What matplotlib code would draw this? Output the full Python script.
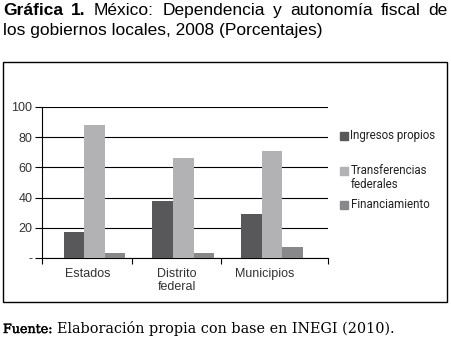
import numpy as np
import matplotlib
matplotlib.use("Agg")
import matplotlib.pyplot as plt
import matplotlib.patheffects as pe
from matplotlib.patches import Rectangle

# datos (porcentajes)
categorias = ["Estados", "Distrito\nfederal", "Municipios"]
series = ["Ingresos propios", "Transferencias\nfederales", "Financiamiento"]
ingresos = [17, 38, 29]
transferencias = [88, 66, 71]
financiamiento = [3, 3, 7]
colores = ["#58585b", "#b2b2b4", "#88888b"]
yticks = [0, 20, 40, 60, 80, 100]
ytick_labels = ["-", "20", "40", "60", "80", "100"]

SANS = ["Liberation Sans", "DejaVu Sans"]
NARROW = ["Roboto", "Liberation Sans", "DejaVu Sans"]
SERIF = ["DejaVu Serif", "Liberation Serif"]

W, H = 451, 341
fig = plt.figure(figsize=(W / 100, H / 100), dpi=100)
r = fig.canvas.get_renderer()


def fx(px):
    return px / W


def fy(py):
    return 1 - py / H


def fit(t, width):
    # ajusta el tamaño de letra para que el texto ocupe `width` píxeles
    for _ in range(3):
        w = t.get_window_extent(r).width
        t.set_fontsize(t.get_fontsize() * width / w)


def justified(words, x0, x1, y, size):
    txts = [fig.text(0, fy(y), t, fontsize=size, family=SANS, weight=wt, va="baseline")
            for t, wt in words]
    widths = [t.get_window_extent(r).width for t in txts]
    gap = (x1 - x0 - sum(widths)) / (len(txts) - 1)
    pos = x0
    for t, wd in zip(txts, widths):
        t.set_x(fx(pos))
        pos += wd + gap


l2 = fig.text(fx(3), fy(35.5), "los gobiernos locales, 2008 (Porcentajes)", fontsize=12,
              family=SANS, va="baseline")
fit(l2, 319)
justified([("Gráfica", "bold"), ("1.", "bold"), ("México:", "normal"), ("Dependencia", "normal"),
           ("y", "normal"), ("autonomía", "normal"), ("fiscal", "normal"), ("de", "normal")],
          3, 448, 15, l2.get_fontsize())

# marco
fig.patches.append(Rectangle((fx(3), fy(302)), fx(447) - fx(3), fy(62) - fy(302),
                             transform=fig.transFigure, fill=False, lw=1, ec="black"))

ax = fig.add_axes([fx(42), fy(258), fx(328) - fx(42), fy(107) - fy(258)])
x = np.arange(len(categorias))
w = 0.232
off = 0.075
for k, (vals, c) in enumerate(zip([ingresos, transferencias, financiamiento], colores)):
    ax.bar(x + off + (k - 1) * w, vals, w, color=c, zorder=3)
ax.set_xlim(-0.52, 2.71)
ax.set_ylim(0, 100)
ax.set_yticks(yticks)
ax.set_yticklabels(ytick_labels, family=SANS)
ax.grid(axis="y", color="black", lw=0.8, zorder=0)
ax.set_axisbelow(True)
for s in ["top", "right"]:
    ax.spines[s].set_visible(False)
for s in ["left", "bottom"]:
    ax.spines[s].set_linewidth(0.8)
ax.set_xticks(x)
ax.set_xticklabels(categorias, family=SANS, fontsize=9, color="#333333", linespacing=1.1)
ax.tick_params(axis="x", which="major", length=0, pad=7)
ax.set_xticks([-0.52, 0.5, 1.5, 2.71], minor=True)
ax.tick_params(axis="x", which="minor", length=4, width=0.8)
ax.tick_params(axis="y", length=5, width=0.8, pad=2, labelsize=9, labelcolor="#333333")

# leyenda
ley_y = [136, 171, 205]
for lab, c, yy in zip(series, colores, ley_y):
    fig.patches.append(Rectangle((fx(340), fy(yy + 3.7)), fx(7.5), 7.5 / H,
                                 transform=fig.transFigure, color=c))
    multi = "\n" in lab
    fig.text(fx(350.5), fy(yy - 6.5 if multi else yy), lab, fontsize=8.3, family=NARROW,
             va="top" if multi else "center", color="#222222", linespacing=1.1)

ft = fig.text(fx(57), fy(333), "Elaboración propia con base en INEGI (2010).", fontsize=9.4,
              family=SERIF, va="baseline")
fit(ft, 338)
fig.text(fx(3), fy(333), "Fuente:", fontsize=ft.get_fontsize() * 0.88, family=SERIF,
         va="baseline", path_effects=[pe.withStroke(linewidth=0.3, foreground="black")])

fig.savefig("out.png", dpi=100)
